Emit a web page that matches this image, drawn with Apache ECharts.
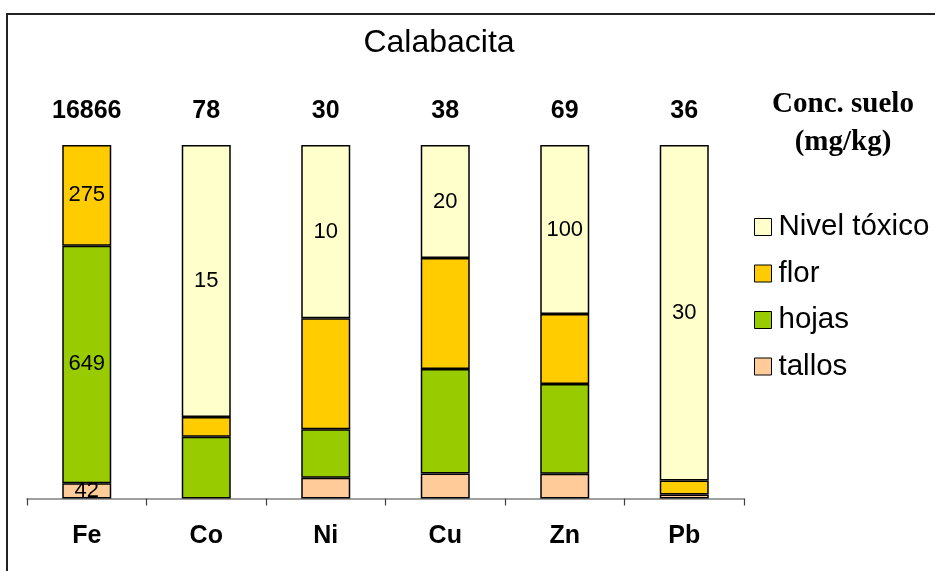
<!DOCTYPE html>
<html>
<head>
<meta charset="utf-8">
<script src="https://cdn.jsdelivr.net/npm/echarts@6/dist/echarts.min.js"></script>
<style>
  html, body { margin: 0; padding: 0; background: #fff; }
  #chart { width: 935px; height: 571px; }
</style>
</head>
<body>
<div id="chart"></div>
<script>
// Metals in squash (calabacita): accumulation per plant part vs toxic level
const categories = ['Fe', 'Co', 'Ni', 'Cu', 'Zn', 'Pb'];
const soilConc = [16866, 78, 30, 38, 69, 36];          // Conc. suelo (mg/kg)
const tallos = [42, 0, 1.2, 4.4, 14.7, 0.35];
const hojas = [649, 3.4, 2.8, 18.5, 53.1, 0];
const flor = [275, 1.1, 6.4, 19.6, 41.4, 1.25];
const nivelToxico = [0, 15, 10, 20, 100, 30];

// Which segments carry a value label
const labelTallos = [true, false, false, false, false, false];
const labelHojas = [true, false, false, false, false, false];
const labelFlor = [true, false, false, false, false, false];
const labelNivel = [false, true, true, true, true, true];

const totals = categories.map((_, i) => tallos[i] + hojas[i] + flor[i] + nivelToxico[i]);

const FONT = '"Liberation Sans", Arial, sans-serif';
const SERIF = '"Liberation Serif", "Times New Roman", serif';

function makeSeries(name, values, color, showFlags) {
  return {
    name: name,
    type: 'bar',
    stack: 'total',
    barWidth: '41%',
    itemStyle: { color: color, borderColor: '#000', borderWidth: 1.5 },
    label: {
      show: true,
      position: 'inside',
      color: '#000',
      fontFamily: FONT,
      fontSize: 22,
      formatter: p => String(values[p.dataIndex])
    },
    emphasis: { disabled: true },
    data: values.map((v, i) => ({
      value: v > 0 ? v / totals[i] * 100 : null,
      label: { show: showFlags[i] }
    }))
  };
}

const chart = echarts.init(document.getElementById('chart'), null, { renderer: 'canvas' });
chart.setOption({
  animation: false,
  backgroundColor: '#fff',
  grid: { left: 27, right: 191, top: 145, bottom: 72.5, containLabel: false },
  xAxis: [
    {
      type: 'category',
      data: categories,
      position: 'bottom',
      axisLine: { lineStyle: { color: '#808080', width: 1.5 } },
      axisTick: { show: true, length: 7, lineStyle: { color: '#404040', width: 1.2 } },
      axisLabel: { color: '#000', fontFamily: FONT, fontWeight: 'bold', fontSize: 25, margin: 25 }
    },
    {
      type: 'category',
      data: soilConc.map(String),
      position: 'top',
      axisLine: { show: false },
      axisTick: { show: false },
      axisLabel: { color: '#000', fontFamily: FONT, fontWeight: 'bold', fontSize: 25, margin: 21 }
    }
  ],
  yAxis: { type: 'value', min: 0, max: 100, show: false },
  legend: {
    orient: 'vertical',
    left: 749,
    top: 207,
    itemWidth: 17,
    itemHeight: 17,
    itemGap: 16.5,
    icon: 'rect',
    itemStyle: { borderColor: '#000', borderWidth: 1 },
    textStyle: { color: '#000', fontFamily: FONT, fontSize: 29.5, padding: [0, 0, 0, 2] },
    data: ['Nivel tóxico', 'flor', 'hojas', 'tallos']
  },
  series: [
    makeSeries('tallos', tallos, '#FFCC99', labelTallos),
    makeSeries('hojas', hojas, '#99CC00', labelHojas),
    makeSeries('flor', flor, '#FFCC00', labelFlor),
    makeSeries('Nivel tóxico', nivelToxico, '#FFFFCC', labelNivel)
  ],
  graphic: [
    {
      type: 'polyline',
      shape: { points: [[7, 571], [7, 14], [935, 14]] },
      style: { stroke: '#222', lineWidth: 2, fill: null }
    },
    {
      type: 'text',
      x: 439, y: 43,
      style: { text: 'Calabacita', fontFamily: FONT, fontSize: 32, fill: '#000', align: 'center', verticalAlign: 'middle' }
    },
    {
      type: 'text',
      x: 843, y: 124,
      style: {
        text: 'Conc. suelo\n(mg/kg)', fontFamily: SERIF, fontWeight: 'bold', fontSize: 29,
        lineHeight: 38, fill: '#000', align: 'center', verticalAlign: 'middle'
      }
    }
  ]
});
</script>
</body>
</html>
